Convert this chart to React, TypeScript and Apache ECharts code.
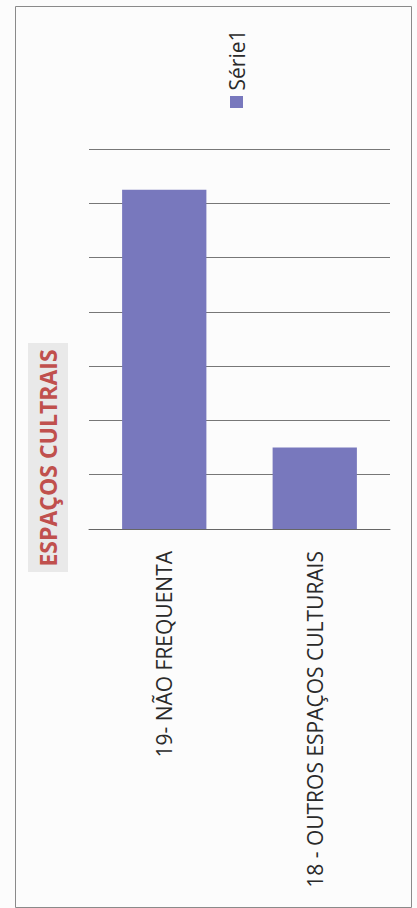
import React, { useEffect, useRef } from "react";
import * as echarts from "echarts";

const categories = ["19- NÃO FREQUENTA", "18 - OUTROS ESPAÇOS CULTURAIS"];
const seriesName = "Série1";
const values = [25, 6];
const titleText = "ESPAÇOS CULTRAIS";

export default function App() {
  const ref = useRef<HTMLDivElement>(null);
  useEffect(() => {
    if (!ref.current) return;
    const chart = echarts.init(ref.current, null, { renderer: "svg" });
    const barColor = "#7878bd";
    chart.setOption({
      animation: false,
      backgroundColor: "#fcfcfc",
      grid: { left: 89, right: 27, top: 149, bottom: 379 },
      xAxis: {
        type: "category",
        data: categories,
        axisLine: { show: true, lineStyle: { color: "#666", width: 1 } },
        axisTick: { show: false },
        axisLabel: {
          rotate: 90,
          margin: 22,
          fontFamily: "Open Sans",
          fontSize: 21,
          color: "#2a2a2a",
        },
      },
      yAxis: {
        type: "value",
        min: 0,
        max: 28,
        interval: 4,
        axisLabel: { show: false },
        axisLine: { show: false },
        axisTick: { show: false },
        splitLine: { lineStyle: { color: "#777", width: 1 } },
      },
      series: [
        {
          name: seriesName,
          type: "bar",
          data: values,
          barCategoryGap: "44%",
          itemStyle: { color: barColor },
        },
      ],
      graphic: [
        {
          type: "rect",
          left: 13,
          top: 4,
          shape: { width: 396, height: 901 },
          style: { fill: "none", stroke: "#8a8a8a", lineWidth: 1 },
          silent: true,
        },
        {
          type: "rect",
          x: 28,
          y: 343,
          shape: { width: 40, height: 229 },
          style: { fill: "#e9e9e9" },
        },
        {
          type: "text",
          x: 48,
          y: 458,
          rotation: Math.PI / 2,
          style: {
            text: titleText,
            fontFamily: "Open Sans",
            fontWeight: "bold",
            fontSize: 23,
            fill: "#c0504d",
            align: "center",
            verticalAlign: "middle",
          },
        },
        {
          type: "rect",
          x: 230,
          y: 96,
          shape: { width: 13, height: 12 },
          style: { fill: barColor },
        },
        {
          type: "text",
          x: 237,
          y: 60,
          rotation: Math.PI / 2,
          style: {
            text: seriesName,
            fontFamily: "Open Sans",
            fontSize: 21,
            fill: "#2a2a2a",
            align: "center",
            verticalAlign: "middle",
          },
        },
      ],
    });
    return () => chart.dispose();
  }, []);
  return (
    <div
      ref={ref}
      style={{ position: "absolute", left: 0, top: 0, width: 417, height: 908 }}
    />
  );
}
